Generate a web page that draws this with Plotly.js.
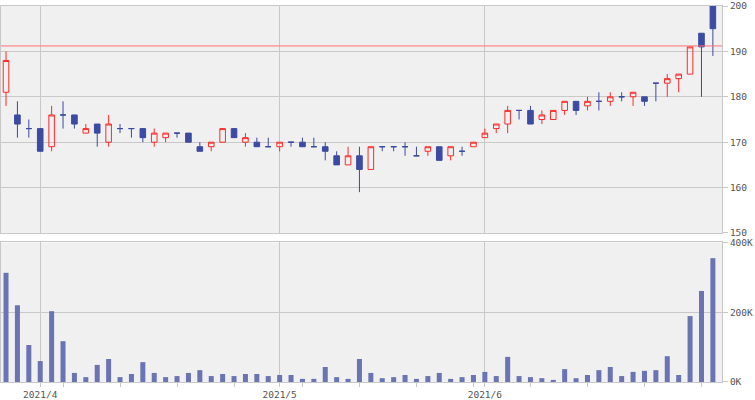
<!DOCTYPE html>
<html><head><meta charset="utf-8">
<script src="https://cdn.plot.ly/plotly-3.0.1.min.js"></script>
<style>html,body{margin:0;padding:0;background:#fff}#c{width:755px;height:400px}</style>
</head><body><div id="c"></div><script>
const dates = ['2021-03-29','2021-03-30','2021-03-31','2021-04-01','2021-04-02','2021-04-05','2021-04-06','2021-04-07','2021-04-08','2021-04-09',
 '2021-04-12','2021-04-13','2021-04-14','2021-04-15','2021-04-16','2021-04-19','2021-04-20','2021-04-21','2021-04-22','2021-04-23',
 '2021-04-26','2021-04-27','2021-04-28','2021-04-30','2021-05-06','2021-05-07','2021-05-10','2021-05-11','2021-05-12','2021-05-13',
 '2021-05-14','2021-05-17','2021-05-18','2021-05-19','2021-05-20','2021-05-21','2021-05-24','2021-05-25','2021-05-26','2021-05-27',
 '2021-05-28','2021-05-31','2021-06-01','2021-06-02','2021-06-03','2021-06-04','2021-06-07','2021-06-08','2021-06-09','2021-06-10',
 '2021-06-11','2021-06-14','2021-06-15','2021-06-16','2021-06-17','2021-06-18','2021-06-21','2021-06-22','2021-06-23','2021-06-24',
 '2021-06-25','2021-06-28','2021-06-29'];
const open  = [181,176,173,173,169,176,176,172,174,170, 173,173,173,170,171,172,172,169,169,170, 173,170,170,169,169,170,170,169,169,167,
               165,167,164,169,169,169,167,168,169,167, 168,169,171,173,174,177,177,175,175,177, 179,178,179,179,180,180,180,183,183,184, 185,194,200];
const high  = [190,179,175,173,178,179,176,174,174,176, 174,173,173,173,172,172,172,170,170,173, 173,172,171,171,170,170,171,171,170,168,
               169,169,169,169,169,170,169,169,169,169, 169,170,173,174,178,177,178,177,177,179, 179,180,181,181,181,181,180,183,185,185, 191,194,200];
const low   = [178,171,171,168,168,173,173,172,169,169, 172,171,170,169,170,171,170,168,168,170, 171,169,169,169,168,169,169,169,166,165,
               165,159,164,168,168,167,167,167,166,166, 167,169,171,172,172,175,174,174,175,176, 176,177,177,178,179,178,178,179,180,181, 185,180,189];
const close = [188,174,173,168,176,176,174,173,172,174, 173,173,171,172,172,172,170,168,170,173, 171,171,169,169,170,170,169,169,168,165,
               167,164,169,169,169,169,167,169,166,169, 168,170,172,174,177,177,174,176,177,179, 177,179,179,180,180,181,179,183,184,185, 191,191,195];
const volume = [313000,220000,106000,60000,203000,117000,26000,14000,49000,66000, 14000,23000,57000,26000,14000,17000,26000,34000,17000,23000,
                17000,23000,23000,17000,20000,20000,9000,9000,43000,14000, 9000,66000,26000,11000,14000,20000,9000,17000,26000,9000,
                14000,20000,29000,17000,72000,17000,14000,11000,6000,37000, 11000,20000,34000,43000,17000,29000,32000,34000,74000,20000,
                189000,261000,355000];
const priceTicks = [150,160,170,180,190,200];
const volTicks = [0,200000,400000];
const volTickText = ['0K','200K','400K'];
const refLevel = 191.2;

const idx = dates.map((d,i)=>i);
// month starts (labelled ticks + grid) and week starts (minor ticks)
const monthIdx = [], monthText = [], weekIdx = [];
dates.forEach((d,i)=>{
  const [y,m,dd] = d.split('-').map(Number);
  if(i>0){
    const [py,pm,pd] = dates[i-1].split('-').map(Number);
    if(pm!==m){ monthIdx.push(i); monthText.push(y+'/'+m); }
    const cur = new Date(Date.UTC(y,m-1,dd)), prev = new Date(Date.UTC(py,pm-1,pd));
    const dow = cur.getUTCDay()||7, pdow = prev.getUTCDay()||7;
    if(dow < pdow || (cur-prev) >= 7*864e5) weekIdx.push(i);
  }
});

const UP='#ff2a2a', DN='#3c4aa2', VOL='#6b74b2', GRID='#c8c8c8', FONT='#555555';
const nd = idx.filter(i=>open[i]!==close[i]);
const dj = idx.filter(i=>open[i]===close[i]);
const pick = (a,s)=>s.map(i=>a[i]);

const traces = [
  {type:'candlestick', x:nd, open:pick(open,nd), high:pick(high,nd), low:pick(low,nd), close:pick(close,nd),
   xaxis:'x', yaxis:'y', hoverinfo:'skip', whiskerwidth:0,
   increasing:{line:{color:UP,width:1}, fillcolor:'rgba(0,0,0,0)'},
   decreasing:{line:{color:DN,width:1}, fillcolor:DN}},
  {type:'candlestick', x:dj, open:pick(open,dj), high:pick(high,dj), low:pick(low,dj), close:pick(close,dj),
   xaxis:'x', yaxis:'y', hoverinfo:'skip', whiskerwidth:0,
   increasing:{line:{color:DN,width:1}, fillcolor:DN},
   decreasing:{line:{color:DN,width:1}, fillcolor:DN}},
  {type:'bar', x:idx, y:volume, xaxis:'x2', yaxis:'y2', marker:{color:VOL, line:{width:0}}, width:0.44, hoverinfo:'skip'}
];

const tickfont = {family:'DejaVu Sans Mono, monospace', size:9.5, color:FONT};
const xr = [-0.44, 62.8];
const layout = {
  width:755, height:400, showlegend:false,
  paper_bgcolor:'#ffffff', plot_bgcolor:'#f0f0f0',
  margin:{l:1, r:32.5, t:5.5, b:18, pad:0},
  xaxis:{domain:[0,1], anchor:'y', range:xr, rangeslider:{visible:false}, tickmode:'array', tickvals:monthIdx, ticktext:monthText,
         showticklabels:false, ticks:'', showgrid:true, gridcolor:GRID, gridwidth:1, showline:true, mirror:true, linecolor:GRID, linewidth:1, zeroline:false, fixedrange:true},
  yaxis:{domain:[0.3963,1], anchor:'x', side:'right', range:[150,200], tickmode:'array', tickvals:priceTicks,
         ticks:'outside', ticklen:5, tickcolor:GRID, showgrid:true, gridcolor:GRID, showline:true, mirror:true, linecolor:GRID, linewidth:1,
         zeroline:false, tickfont:tickfont, ticklabeloverflow:'allow', fixedrange:true},
  xaxis2:{domain:[0,1], anchor:'y2', range:xr, tickmode:'array', tickvals:monthIdx, ticktext:monthText,
          ticks:'outside', ticklen:4, tickcolor:GRID, showgrid:true, gridcolor:GRID, showline:true, mirror:true, linecolor:GRID, linewidth:1,
          zeroline:false, tickfont:tickfont, ticklabeloverflow:'allow',
          minor:{tickmode:'array', tickvals:weekIdx, ticks:'outside', ticklen:4, tickcolor:GRID, showgrid:false}, fixedrange:true},
  yaxis2:{domain:[0,0.3711], anchor:'x2', side:'right', range:[0,400000], tickmode:'array', tickvals:volTicks, ticktext:volTickText,
          ticks:'outside', ticklen:5, tickcolor:GRID, showgrid:true, gridcolor:GRID, showline:true, mirror:true, linecolor:GRID, linewidth:1,
          zeroline:false, tickfont:tickfont, ticklabeloverflow:'allow', fixedrange:true},
  shapes:[{type:'line', layer:'above', xref:'x domain', yref:'y', x0:0, x1:1, y0:refLevel, y1:refLevel, line:{color:'#ff7070', width:1}}]
};
Plotly.newPlot('c', traces, layout, {staticPlot:true, displayModeBar:false});
</script></body></html>
